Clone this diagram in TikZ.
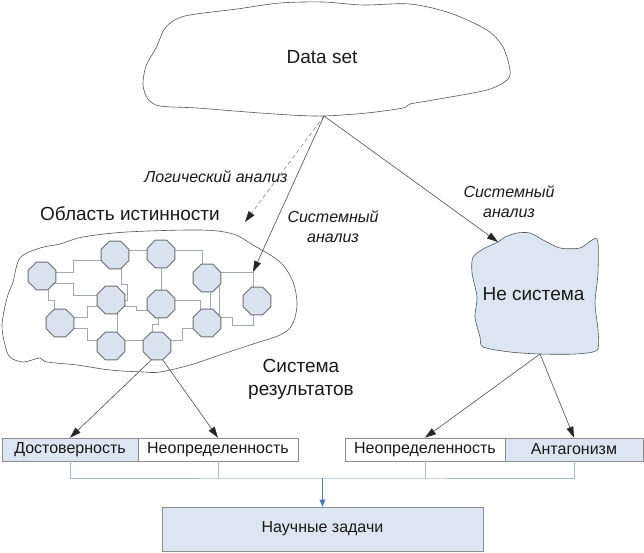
\documentclass[tikz,border=0pt]{standalone}
\usepackage{fontspec}
\setmainfont{Liberation Sans}
\usetikzlibrary{arrows.meta,shapes.geometric}
\pgfdeclarelayer{bg}
\pgfsetlayers{bg,main}
\definecolor{boxfill}{RGB}{220,230,242}
\definecolor{octfill}{RGB}{217,226,238}
\definecolor{octline}{RGB}{110,110,115}
\definecolor{outl}{RGB}{85,85,85}
\definecolor{netc}{RGB}{160,168,180}
\definecolor{boxline}{RGB}{140,140,140}
\definecolor{buscol}{RGB}{170,186,206}
\definecolor{arrblue}{RGB}{74,126,187}
\definecolor{txt}{RGB}{25,25,25}
\begin{document}
\begin{tikzpicture}[x=1pt,y=-1pt,
  oct/.style={regular polygon, regular polygon sides=8, minimum size=30pt, inner sep=0pt, fill=octfill, draw=octline, line width=0.9pt},
  net/.style={draw=netc, line width=0.6pt},
  cloudline/.style={draw=outl, line width=0.6pt},
  arr/.style={draw=gray!60!black, line width=0.6pt, -{Triangle[length=11pt,width=7pt,color=black!85]}},
  dasharr/.style={arr, dashed, dash pattern=on 4pt off 3pt, draw=gray},
  bigtxt/.style={font=\fontsize{19}{23}\selectfont, text=txt, inner sep=0pt},
  lbl/.style={font=\fontsize{16}{20}\selectfont\itshape, text=txt, align=center, inner sep=0pt},
  box/.style={draw=boxline, line width=0.6pt, minimum height=23pt, inner sep=0pt, font=\fontsize{16}{19}\selectfont, text=txt},
  bus/.style={draw=buscol, line width=0.7pt}
]
\path[use as bounding box] (0,0) rectangle (644,553);

% Data set cloud
\draw[cloudline] plot[smooth cycle, tension=0.5] coordinates {
 (143,85) (146,66) (156,48) (166,27) (185,16) (237,9) (280,3) (323,2)
 (363,5) (410,4) (450,13) (487,30) (503,47) (510,70) (507,80) (487,90) (433,100) (410,104)
 (403,108) (367,113) (324,116) (290,115) (247,112) (197,108) (160,106) (148,99)};
\node[bigtxt] (ds) at (322,57) {Data set};
\coordinate (DS) at (324,116);

% Oblast cloud
\draw[cloudline] plot[smooth cycle, tension=0.55] coordinates {
 (40,248) (60,244) (83,237) (127,232) (200,230) (233,234) (253,245) (280,262) (293,282)
 (297,305) (292,325) (280,335) (250,345) (220,355) (190,365) (160,372) (143,372) (110,370)
 (77,365) (47,362) (40,358) (23,362) (10,357) (5,345) (2,325) (7,298) (13,282) (20,258)};
\node[bigtxt] (obl) at (130,214) {Область истинности};

% octagons
\node[oct] (O1) at (42,276) {};
\node[oct] (O2) at (115,255) {};
\node[oct] (O6) at (161,254) {};
\node[oct] (O7) at (207,278) {};
\node[oct] (O3) at (111,300) {};
\node[oct] (O8) at (161,304) {};
\node[oct] (O9) at (257,301) {};
\node[oct] (O4) at (60,323) {};
\node[oct] (O10) at (207,323) {};
\node[oct] (O5) at (111,346) {};
\node[oct] (O11) at (157,346) {};
\coordinate (J) at (253,272);

\begin{pgfonlayer}{bg}
\draw[net] ([yshift=4pt]O1.center) -| (73,260) -- ([yshift=-5pt]O2.center);
\draw[net] ([yshift=-7pt]O1.center) -| (73,295) -- ([yshift=5pt]O3.center);
\draw[net] ([xshift=6pt]O1.center) |- (54,300) -- ([xshift=-6pt]O4.center);
\draw[net] ([yshift=6pt]O4.center) -| (87,306) -- ([yshift=-6pt]O3.center);
\draw[net] ([yshift=-5pt]O4.center) -| (87,340) -- ([yshift=6pt]O5.center);
\draw[net] ([xshift=6pt]O2.center) |- (127,284) |- (O3.center);
\draw[net] ([xshift=6pt]O3.center) -- ([xshift=6pt]O5.center);
\draw[net] ([yshift=5pt]O2.center) -- ([yshift=4pt]O6.center);
\draw[net] ([yshift=4pt]O6.center) -| ([xshift=-5pt]O7.center);
\draw[net] (O6.center) -- (O8.center);
\draw[net] ([yshift=-6pt]O3.center) -| (136,310) -- ([yshift=-6pt]O8.center);
\draw[net] ([yshift=6pt]O5.center) -- ([yshift=6pt]O11.center);
\draw[net] ([xshift=-3pt]O8.center) |- (152,324) -- ([xshift=-5pt]O11.center);
\draw[net] ([yshift=4pt]O8.center) -| ([xshift=-7pt]O10.center);
\draw[net] ([yshift=6pt]O11.center) -| (182,328) -- ([yshift=-5pt]O10.center);
\draw[net] ([xshift=3pt]O7.center) -- ([xshift=3pt]O10.center);
\draw[net] ([xshift=12pt]O7.center) -- ([xshift=12pt]O10.center);
\draw[net] (J) -- (J -| O7.center);
\draw[net] (J) -- (J |- O9.center);
\draw[net] ([yshift=6pt]O10.center) -| (232,325) -| ([xshift=-4pt]O9.center);
\end{pgfonlayer}

% Ne sistema
\draw[cloudline, fill=boxfill] plot[smooth cycle, tension=0.45] coordinates {
 (498,242) (505,237) (517,233) (530,233) (543,240) (560,248) (580,248) (597,239)
 (598,273) (595,303) (598,330) (597,350) (575,354) (540,354) (510,352) (483,347)
 (480,337) (475,317) (477,297) (472,273) (473,257) (485,248)};
\node[bigtxt] (ns) at (533.5,294) {Не система};
\coordinate (NS1) at (498,242);
\coordinate (NSb) at (540,354);
\coordinate (LA) at (245,222);

% labels
\node[lbl] (l1) at (216,177) {Логический анализ};
\node[lbl] (l2) at (333,227) {Системный\\анализ};
\node[lbl] (l3) at (509,202) {Системный\\анализ};
\node[bigtxt, align=center, font=\fontsize{19}{23}\selectfont] (sr) at (301,379) {Система\\результатов};

% arrows from data set
\draw[dasharr] (DS) -- (LA);
\draw[arr] (DS) -- (J);
\draw[arr] (DS) -- (NS1);

% boxes
\node[box, fill=boxfill, minimum width=136pt] (Dost) at (70,449.5) {Достоверность};
\node[box, fill=white, minimum width=160pt] (Neop1) at (218,449.5) {Неопределенность};
\node[box, fill=white, minimum width=160pt] (Neop2) at (425,449.5) {Неопределенность};
\node[box, fill=boxfill, minimum width=138pt] (Antag) at (574,449.5) {Антагонизм};
\node[box, fill=boxfill, minimum width=321pt, minimum height=44pt] (Nauch) at (322.5,529) {Научные задачи};

\draw[arr] ([xshift=-6pt]O11.south) -- (Dost.north);
\draw[arr] ([xshift=6pt]O11.south) -- (Neop1.north);
\draw[arr] (NSb) -- (Neop2.north);
\draw[arr] (NSb) -- (Antag.north);

% bus
\coordinate (bus) at (322.5,478);
\draw[bus] (Dost.south) |- (bus) -| (Antag.south);
\draw[bus] (Neop1.south) -- (Neop1.south |- bus);
\draw[bus] (Neop2.south) -- (Neop2.south |- bus);
\draw[draw=arrblue, line width=0.7pt, -{Triangle[length=7pt,width=6pt]}] (bus) -- (Nauch.north);
\end{tikzpicture}
\end{document}
